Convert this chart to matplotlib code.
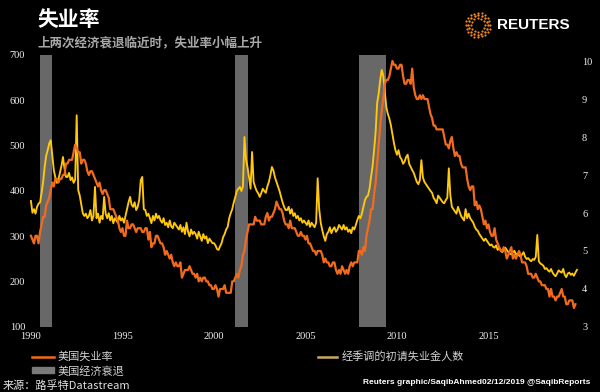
import numpy as np
import pandas as pd
import matplotlib
matplotlib.use('Agg')
import matplotlib.pyplot as plt
from matplotlib.lines import Line2D
from matplotlib.patches import Rectangle

plt.rcParams['font.family'] = ['Noto Sans CJK SC', 'DejaVu Sans']

# US unemployment rate, %, monthly Jan 1990 - Oct 2019 (right axis)
unemp_rate = [
    5.4, 5.3, 5.2, 5.4, 5.4, 5.2, 5.5, 5.7, 5.9, 5.9, 6.2, 6.3,
    6.4, 6.6, 6.8, 6.7, 6.9, 6.9, 6.8, 6.9, 6.9, 7.0, 7.0, 7.3,
    7.3, 7.4, 7.4, 7.4, 7.6, 7.8, 7.7, 7.6, 7.6, 7.3, 7.4, 7.4,
    7.3, 7.1, 7.0, 7.1, 7.1, 7.0, 6.9, 6.8, 6.7, 6.8, 6.6, 6.5,
    6.6, 6.6, 6.5, 6.4, 6.1, 6.1, 6.1, 6.0, 5.9, 5.8, 5.6, 5.5,
    5.6, 5.4, 5.4, 5.8, 5.6, 5.6, 5.7, 5.7, 5.6, 5.5, 5.6, 5.6,
    5.6, 5.5, 5.5, 5.6, 5.6, 5.3, 5.5, 5.1, 5.2, 5.2, 5.4, 5.4,
    5.3, 5.2, 5.2, 5.1, 4.9, 5.0, 4.9, 4.8, 4.9, 4.7, 4.6, 4.7,
    4.6, 4.6, 4.7, 4.3, 4.4, 4.5, 4.5, 4.5, 4.6, 4.5, 4.4, 4.4,
    4.3, 4.4, 4.2, 4.3, 4.2, 4.3, 4.3, 4.2, 4.2, 4.1, 4.1, 4.0,
    4.0, 4.1, 4.0, 3.8, 4.0, 4.0, 4.0, 4.1, 3.9, 3.9, 3.9, 3.9,
    4.2, 4.2, 4.3, 4.4, 4.3, 4.5, 4.6, 4.9, 5.0, 5.3, 5.5, 5.7,
    5.7, 5.7, 5.7, 5.9, 5.8, 5.8, 5.8, 5.7, 5.7, 5.7, 5.9, 6.0,
    5.8, 5.9, 5.9, 6.0, 6.1, 6.3, 6.2, 6.1, 6.1, 6.0, 5.8, 5.7,
    5.7, 5.6, 5.8, 5.6, 5.6, 5.6, 5.5, 5.4, 5.4, 5.5, 5.4, 5.4,
    5.3, 5.4, 5.2, 5.2, 5.1, 5.0, 5.0, 4.9, 5.0, 5.0, 5.0, 4.9,
    4.7, 4.8, 4.7, 4.7, 4.6, 4.6, 4.7, 4.7, 4.5, 4.4, 4.5, 4.4,
    4.6, 4.5, 4.4, 4.5, 4.4, 4.6, 4.7, 4.6, 4.7, 4.7, 4.7, 5.0,
    5.0, 4.9, 5.1, 5.0, 5.4, 5.6, 5.8, 6.1, 6.1, 6.5, 6.8, 7.3,
    7.8, 8.3, 8.7, 9.0, 9.4, 9.5, 9.5, 9.6, 9.8, 10.0, 9.9, 9.9,
    9.8, 9.8, 9.9, 9.9, 9.6, 9.4, 9.4, 9.5, 9.5, 9.4, 9.8, 9.3,
    9.1, 9.0, 9.0, 9.1, 9.0, 9.1, 9.0, 9.0, 9.0, 8.8, 8.6, 8.5,
    8.3, 8.3, 8.2, 8.2, 8.2, 8.2, 8.2, 8.0, 7.8, 7.8, 7.7, 7.9,
    8.0, 7.7, 7.5, 7.6, 7.5, 7.5, 7.3, 7.2, 7.2, 7.2, 6.9, 6.7,
    6.6, 6.7, 6.7, 6.2, 6.3, 6.1, 6.2, 6.1, 5.9, 5.7, 5.8, 5.6,
    5.7, 5.5, 5.4, 5.4, 5.6, 5.3, 5.2, 5.1, 5.0, 5.0, 5.1, 5.0,
    4.8, 4.9, 5.0, 5.1, 4.8, 4.9, 4.8, 4.9, 5.0, 4.9, 4.7, 4.7,
    4.7, 4.6, 4.4, 4.4, 4.4, 4.3, 4.3, 4.4, 4.3, 4.2, 4.2, 4.1,
    4.1, 4.1, 4.0, 4.0, 3.8, 4.0, 3.8, 3.8, 3.7, 3.8, 3.8, 3.9,
    4.0, 3.8, 3.8, 3.6, 3.6, 3.7, 3.7, 3.7, 3.5, 3.6,
]

# initial jobless claims, seasonally adjusted, thousands, monthly Jan 1990 - Nov 2019 (left axis)
claims = [
    378, 352, 360, 350, 365, 372, 375, 396, 420, 453, 478, 490,
    505, 512, 480, 446, 430, 418, 425, 440, 455, 475, 450, 431,
    431, 440, 424, 430, 418, 425, 567, 402, 390, 370, 351, 345,
    350, 340, 345, 358, 335, 345, 409, 340, 350, 330, 345, 338,
    387, 350, 340, 351, 335, 345, 329, 340, 335, 330, 345, 335,
    340, 330, 345, 360, 375, 387, 370, 365, 375, 358, 365, 380,
    424, 431, 360, 358, 345, 350, 340, 329, 345, 335, 350, 340,
    345, 335, 330, 340, 325, 330, 320, 335, 322, 318, 330, 325,
    320, 315, 325, 310, 320, 305, 330, 310, 300, 315, 305, 310,
    305, 295, 310, 300, 290, 305, 295, 300, 285, 295, 290, 285,
    285, 280, 272, 270, 278, 285, 298, 305, 315, 321, 340, 351,
    360, 375, 387, 400, 405, 409, 400, 410, 519, 470, 453, 430,
    405, 486, 420, 409, 400, 395, 387, 395, 405, 400, 396, 410,
    420, 435, 453, 445, 430, 420, 410, 400, 387, 375, 365, 358,
    358, 365, 350, 360, 345, 351, 340, 345, 335, 340, 330, 335,
    330, 325, 335, 321, 330, 325, 320, 330, 428, 360, 330, 314,
    300, 290, 305, 310, 320, 307, 315, 320, 310, 315, 325, 320,
    315, 325, 315, 320, 310, 315, 307, 320, 315, 325, 336, 345,
    340, 350, 365, 380, 387, 390, 405, 431, 455, 490, 530, 594,
    615, 645, 667, 655, 620, 585, 570, 560, 545, 525, 506, 490,
    480, 490, 475, 470, 460, 465, 475, 480, 460, 453, 446, 440,
    430, 420, 415, 424, 468, 430, 420, 415, 410, 405, 400, 396,
    385, 380, 373, 390, 385, 380, 375, 373, 380, 385, 450, 390,
    365, 360, 355, 350, 365, 355, 345, 340, 335, 360, 340, 350,
    340, 335, 330, 321, 315, 312, 305, 300, 295, 290, 295, 290,
    285, 280, 282, 277, 275, 280, 270, 275, 270, 265, 270, 275,
    270, 265, 262, 260, 265, 268, 260, 262, 258, 255, 260, 265,
    255, 250, 252, 248, 245, 250, 248, 255, 303, 245, 240, 238,
    235, 228, 230, 225, 222, 228, 220, 215, 212, 218, 225, 222,
    220, 228, 215, 210, 218, 220, 215, 218, 213, 220, 226,
]

recession_start = ['1990-07', '2001-03', '2007-12']
recession_end = ['1991-03', '2001-11', '2009-06']

year_ticks = [1990, 1995, 2000, 2005, 2010, 2015]
claims_ticks = [100, 200, 300, 400, 500, 600, 700]
rate_ticks = [3, 4, 5, 6, 7, 8, 9, 10]


def dec_year(dates):
    dates = pd.DatetimeIndex(dates)
    return dates.year + (dates.month - 1) / 12


unemp_x = dec_year(pd.date_range('1990-01', periods=len(unemp_rate), freq='MS'))
claims_x = dec_year(pd.date_range('1990-01', periods=len(claims), freq='MS'))
rec_x0 = dec_year(recession_start)
rec_x1 = dec_year(recession_end)

W, H = 600, 392
fig = plt.figure(figsize=(6, 3.92), dpi=100, facecolor='black')

ax = fig.add_axes([28 / W, 1 - 327 / H, 552 / W, 272 / H])
ax.set_facecolor('black')
ax2 = ax.twinx()

for a, b in zip(rec_x0, rec_x1):
    ax.axvspan(a, b, color='#686868', lw=0, zorder=0)

ax.plot(claims_x, claims, color='#ffc80a', lw=1.35)
ax2.plot(unemp_x, unemp_rate, color='#f26b1d', lw=1.6)

ax.set_xlim(1989.84, 2020.0)
ax.set_ylim(100, 700)
ax2.set_ylim(3, 3 + 272 / 38)

ax.set_xticks(year_ticks)
ax.set_yticks(claims_ticks)
ax2.set_yticks(rate_ticks)

for a in (ax, ax2):
    for s in a.spines.values():
        s.set_visible(False)
ax.tick_params(axis='x', length=0, pad=3.5, labelsize=7.5, labelcolor='#f0f0f0')
ax.tick_params(axis='y', length=0, pad=2, labelsize=7.5, labelcolor='#f0f0f0')
ax2.tick_params(axis='y', length=0, pad=1.5, labelsize=7.5, labelcolor='#f0f0f0')
for lab in ax.get_xticklabels() + ax.get_yticklabels() + ax2.get_yticklabels():
    lab.set_fontfamily('Liberation Serif')

# titles
fig.text(37 / W, 1 - 19 / H, '失业率', fontsize=15, fontweight='bold',
         color='white', va='center', ha='left')
fig.text(37 / W, 1 - 43 / H, '上两次经济衰退临近时，失业率小幅上升', fontsize=9,
         fontweight='bold', color='#a8a8a8', va='center', ha='left')

# Reuters logo (dotted ring)
lax = fig.add_axes([(478 - 14) / W, 1 - 39 / H, 28 / W, 28 / H])
lax.set_xlim(-1.1, 1.1)
lax.set_ylim(-1.1, 1.1)
lax.set_aspect('equal')
lax.axis('off')
for r, n, sz in [(0.55, 12, 2.5), (0.75, 16, 3), (0.95, 20, 2.5)]:
    ang = np.linspace(0, 2 * np.pi, n, endpoint=False) + r
    lax.scatter(r * np.cos(ang), r * np.sin(ang), s=sz, color='#f58a1f', lw=0)
fig.text(497 / W, 1 - 25 / H, 'REUTERS', fontsize=11, fontweight='bold',
         family='Liberation Sans', color='white', va='center', ha='left')

# legend
fig.add_artist(Line2D([32 / W, 54 / W], [1 - 357 / H] * 2, color='#f26b1d', lw=1.8))
fig.text(58 / W, 1 - 356 / H, '美国失业率', fontsize=8, color='#d2d2d2',
         va='center', ha='left')
fig.add_artist(Rectangle((32 / W, 1 - 373 / H), 22 / W, 6 / H, color='#7a7a7a',
                         transform=fig.transFigure))
fig.text(58 / W, 1 - 372 / H, '美国经济衰退', fontsize=8, color='#d2d2d2',
         va='center', ha='left')
fig.add_artist(Line2D([318 / W, 337 / W], [1 - 357 / H] * 2, color='#c9a965', lw=1.8))
fig.text(342 / W, 1 - 356 / H, '经季调的初请失业金人数', fontsize=8, color='#d2d2d2',
         va='center', ha='left')

fig.text(3 / W, 1 - 386 / H, '来源：路孚特Datastream', fontsize=8, color='#e0e0e0',
         va='center', ha='left')
fig.text(590 / W, 1 - 383 / H, 'Reuters graphic/SaqibAhmed02/12/2019 @SaqibReports',
         fontsize=6, fontweight='bold', family='Liberation Sans', color='white',
         va='center', ha='right')

fig.savefig('out.png', dpi=100, facecolor='black')
